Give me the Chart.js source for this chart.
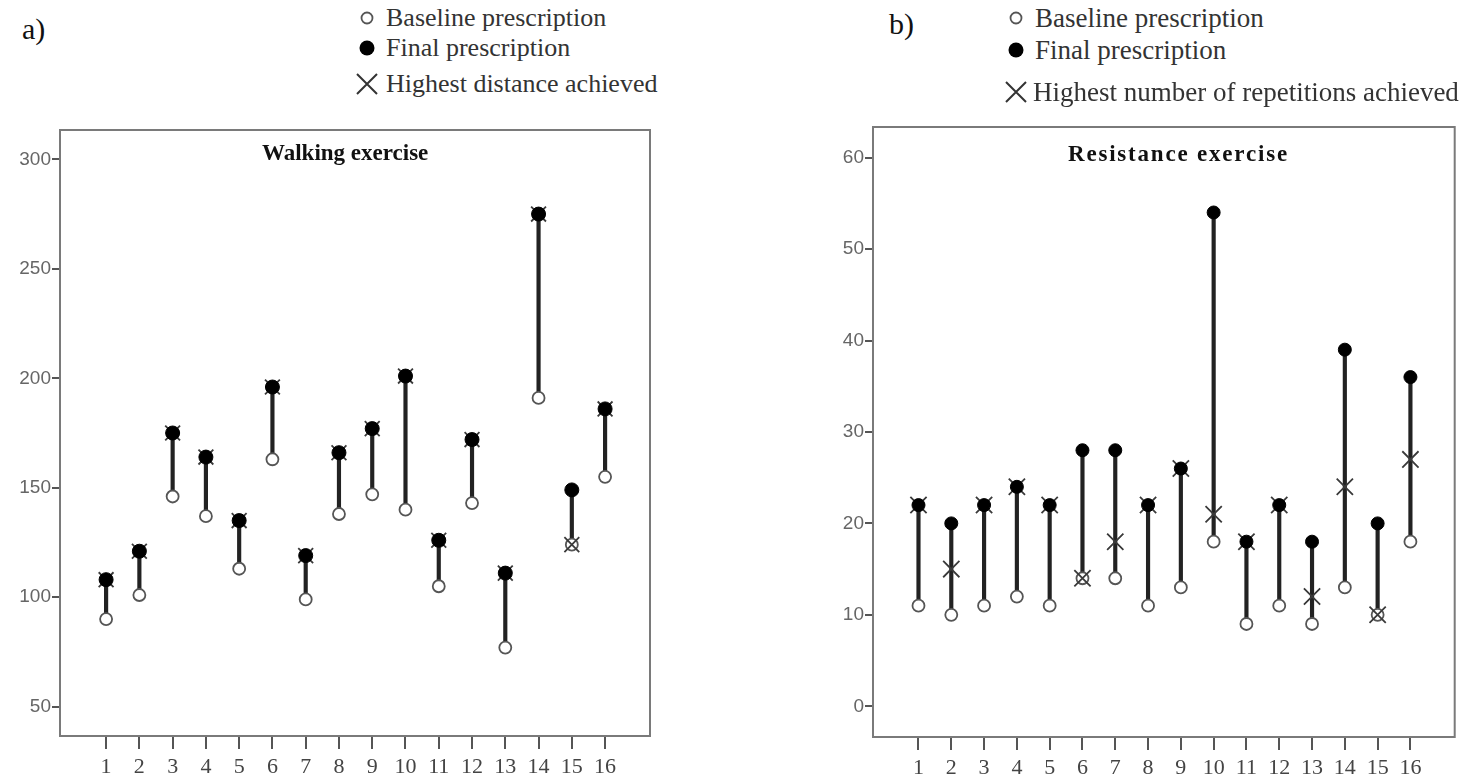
<!DOCTYPE html>
<html>
<head>
<meta charset="utf-8">
<script src="https://cdn.jsdelivr.net/npm/chart.js@4.4.0/dist/chart.umd.min.js"></script>
<style>
  body{margin:0;background:#fff;width:1468px;height:779px;position:relative;overflow:hidden;font-family:"Liberation Serif",serif;color:#222;}
  .txt{position:absolute;white-space:nowrap;line-height:1;}
  .panel{position:absolute;font-size:30px;color:#111;}
  .leg{font-size:26px;color:#333;}
  .ttl{font-weight:bold;font-size:23px;color:#111;}
  canvas{position:absolute;}
</style>
</head>
<body>
<div class="txt panel" style="left:22px;top:14px;">a)</div>
<div class="txt panel" style="left:889px;top:9px;">b)</div>

<canvas id="walk-chart" style="left:0px;top:100px;" width="680" height="679"></canvas>
<canvas id="res-chart" style="left:800px;top:100px;" width="668" height="679"></canvas>

<div class="txt ttl" style="left:262px;top:141px;">Walking exercise</div>
<div class="txt ttl" style="left:1068px;top:142px;letter-spacing:1.8px;">Resistance exercise</div>

<!-- legends -->
<div class="txt leg" style="left:386px;top:5px;">Baseline prescription</div>
<div class="txt leg" style="left:386px;top:35px;">Final prescription</div>
<div class="txt leg" style="left:386px;top:71px;">Highest distance achieved</div>
<div class="txt leg" style="left:1035px;top:5px;font-size:27px;">Baseline prescription</div>
<div class="txt leg" style="left:1035px;top:37px;font-size:27px;">Final prescription</div>
<div class="txt leg" style="left:1033px;top:79px;font-size:27px;">Highest number of repetitions achieved</div>
<canvas id="legend-icons" style="left:0;top:0;" width="1468" height="110"></canvas>

<script>
//Data
const patients = [1,2,3,4,5,6,7,8,9,10,11,12,13,14,15,16];

const walkBaseline = [90,101,146,137,113,163,99,138,147,140,105,143,77,191,124,155];
const walkFinal    = [108,121,175,164,135,196,119,166,177,201,126,172,111,275,149,186];
const walkHighest  = [108,121,175,164,135,196,119,166,177,201,126,172,111,275,124,186];
const walkTicks    = [50,100,150,200,250,300];

const resBaseline = [11,10,11,12,11,14,14,11,13,18,9,11,9,13,10,18];
const resFinal    = [22,20,22,24,22,28,28,22,26,54,18,22,18,39,20,36];
const resHighest  = [22,15,22,24,22,14,18,22,26,21,18,22,12,24,10,27];
const resTicks    = [0,10,20,30,40,50,60];

//box around the plot area
const frame = {
    id:'frame',
    afterDraw(chart){
        const a = chart.chartArea;
        const ctx = chart.ctx;
        ctx.save();
        ctx.strokeStyle = '#7a7a7a';
        ctx.lineWidth = 2;
        ctx.strokeRect(a.left, a.top, a.right-a.left, a.bottom-a.top);
        ctx.restore();
    }
}

const points = (vals) => patients.map((p,i) => ({x:p, y:vals[i]}));

function makeChart(canvas, base, fin, high, yTicks, opt){
    return new Chart(canvas,{
        type:'bar',
        data:{
            datasets:[
                {
                    type:'line', label:'Final prescription', data:points(fin), showLine:false,
                    pointStyle:'circle', pointRadius:opt.dot, pointBackgroundColor:'#000',
                    pointBorderColor:'#000', pointBorderWidth:1, order:0
                },
                {
                    type:'line', label:'Highest achieved', data:points(high), showLine:false,
                    pointStyle:'crossRot', pointRadius:opt.cross, pointBorderColor:'#3a3a3a',
                    pointBorderWidth:1.8, order:1
                },
                {
                    type:'line', label:'Baseline prescription', data:points(base), showLine:false,
                    pointStyle:'circle', pointRadius:6, pointBackgroundColor:'#fff',
                    pointBorderColor:'#555', pointBorderWidth:1.8, order:2
                },
                {
                    type:'bar', label:'range', data:patients.map((p,i) => ({x:p, y:[base[i], fin[i]]})),
                    backgroundColor:'#222', barThickness:3.5, order:3
                }
            ]
        },
        options:{
            responsive:false,
            animation:false,
            layout:{padding:opt.pad},
            plugins:{legend:{display:false}, tooltip:{enabled:false}},
            scales:{
                x:{
                    type:'linear', min:opt.xMin, max:opt.xMax, offset:false,
                    afterBuildTicks: s => { s.ticks = patients.map(v => ({value:v})); },
                    afterFit: s => { s.height = opt.xH; },
                    grid:{offset:false, drawOnChartArea:false, drawTicks:true, tickLength:13, color:'#555', lineWidth:2},
                    border:{display:false},
                    ticks:{color:'#444', padding:5, maxRotation:0, autoSkip:false,
                        font:{family:'Liberation Serif', size:22}}
                },
                y:{
                    min:opt.yMin, max:opt.yMax,
                    afterBuildTicks: s => { s.ticks = yTicks.map(v => ({value:v})); },
                    afterFit: s => { s.width = opt.yW; },
                    grid:{drawOnChartArea:false, drawTicks:true, tickLength:8, color:'#555', lineWidth:2},
                    border:{display:false},
                    ticks:{color:'#666', padding:1, font:{family:'Liberation Sans', size:19}}
                }
            }
        },
        plugins:[frame]
    });
}

makeChart(document.querySelector('#walk-chart'), walkBaseline, walkFinal, walkHighest, walkTicks, {
    xMin:-0.386, xMax:17.35, yMin:36.6, yMax:313.4,
    yW:60, xH:43, pad:{top:30, right:30, left:0, bottom:0},
    dot:7, cross:10.5
});

makeChart(document.querySelector('#res-chart'), resBaseline, resFinal, resHighest, resTicks, {
    xMin:-0.387, xMax:17.35, yMin:-3.36, yMax:63.35,
    yW:73, xH:42, pad:{top:27, right:10, left:0, bottom:0},
    dot:6.5, cross:11.5
});

//legend symbols
const lc = document.querySelector('#legend-icons').getContext('2d');
function legendIcons(x, ys, r){
    lc.lineWidth = 1.8;
    lc.strokeStyle = '#555';
    lc.fillStyle = '#fff';
    lc.beginPath(); lc.arc(x, ys[0], r, 0, Math.PI*2); lc.fill(); lc.stroke();
    lc.fillStyle = '#000';
    lc.beginPath(); lc.arc(x, ys[1], r+2, 0, Math.PI*2); lc.fill();
    lc.strokeStyle = '#333';
    lc.lineWidth = 2;
    lc.beginPath();
    lc.moveTo(x-10, ys[2]-10); lc.lineTo(x+10, ys[2]+10);
    lc.moveTo(x+10, ys[2]-10); lc.lineTo(x-10, ys[2]+10);
    lc.stroke();
}
legendIcons(367, [18, 48, 84], 5.5);
legendIcons(1016, [18, 50, 92], 5.5);
</script>
</body>
</html>
